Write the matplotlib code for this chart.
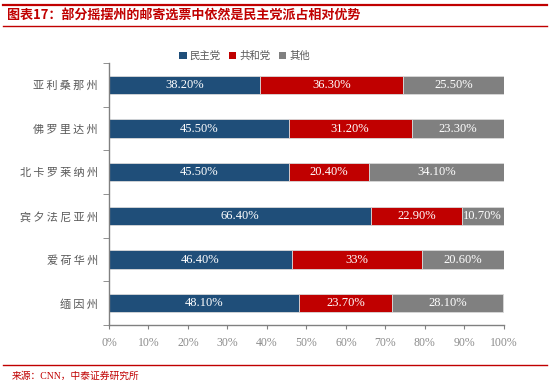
import numpy as np
import matplotlib.pyplot as plt
from matplotlib.lines import Line2D
from matplotlib.patches import Patch

# data
states = ["亚利桑那州", "佛罗里达州", "北卡罗莱纳州", "宾夕法尼亚州", "爱荷华州", "缅因州"]
dem = [38.2, 45.5, 45.5, 66.4, 46.4, 48.1]
rep = [36.3, 31.2, 20.4, 22.9, 33.0, 23.7]
oth = [25.5, 23.3, 34.1, 10.7, 20.6, 28.1]
dem_labels = ["38.20%", "45.50%", "45.50%", "66.40%", "46.40%", "48.10%"]
rep_labels = ["36.30%", "31.20%", "20.40%", "22.90%", "33%", "23.70%"]
oth_labels = ["25.50%", "23.30%", "34.10%", "10.70%", "20.60%", "28.10%"]
series_names = ["民主党", "共和党", "其他"]
colors = ["#1F4E79", "#C00000", "#808080"]

cjk = ["Noto Sans CJK SC", "DejaVu Sans"]
serif = ["Liberation Serif", "Noto Sans CJK SC"]

fig = plt.figure(figsize=(5.5, 3.92), dpi=100)
ax = fig.add_axes([0.198, 0.171, 0.718, 0.668])

y = np.arange(len(states))
left = np.zeros(len(states))
for vals, labs, c in zip([dem, rep, oth], [dem_labels, rep_labels, oth_labels], colors):
    vals = np.array(vals)
    bars = ax.barh(y, vals, left=left, height=0.42, color=c,
                   edgecolor="#d9d9d9", linewidth=0.6)
    for b, lab in zip(bars, labs):
        ax.text(b.get_x() + b.get_width() / 2, b.get_y() + b.get_height() / 2,
                lab, ha="center", va="center", color="white",
                fontsize=9, family=serif)
    left = left + vals

ax.set_xlim(0, 100)
ax.set_ylim(len(states) - 0.5, -0.5)
ax.set_xticks(np.arange(0, 101, 10))
ax.set_xticklabels([f"{v}%" for v in range(0, 101, 10)], family=serif,
                   fontsize=8.5, color="#8c8c8c")
ax.set_yticks(y)
# letter-spaced category labels (thin space falls back to DejaVu)
ax.set_yticklabels(["\u2009".join(s) for s in states], family=cjk,
                   fontsize=8, color="#595959")
ax.set_yticks(np.arange(-0.5, len(states)), minor=True)
ax.tick_params(axis="y", which="major", length=0, pad=8)
ax.tick_params(axis="y", which="minor", length=4, color="#808080", direction="out")
ax.tick_params(axis="x", length=3, color="#808080", direction="out", pad=6)
for s in ["top", "right"]:
    ax.spines[s].set_visible(False)
for s in ["left", "bottom"]:
    ax.spines[s].set_color("#808080")
    ax.spines[s].set_linewidth(1.0)

# legend
handles = [Patch(facecolor=c, edgecolor="none") for c in colors]
fig.legend(handles, series_names, loc="center", bbox_to_anchor=(0.445, 0.857),
           ncol=3, frameon=False, prop={"family": cjk, "size": 7.5},
           handlelength=0.7, handleheight=0.7, handletextpad=0.3,
           columnspacing=0.8, labelcolor="#595959")

# title block
red = "#C00000"
fig.add_artist(Line2D([0.005, 0.995], [0.987, 0.987], color=red, lw=1.6))
fig.add_artist(Line2D([0.005, 0.995], [0.933, 0.933], color=red, lw=1.0))
fig.text(0.012, 0.960, "图表17：部分摇摆州的邮寄选票中依然是民主党派占相对优势",
         color=red, fontsize=9.4, fontweight="bold", style="italic",
         family=cjk, va="center", ha="left")

# source
fig.add_artist(Line2D([0.005, 0.995], [0.070, 0.070], color=red, lw=1.0))
fig.text(0.022, 0.040, "来源：CNN，中泰证券研究所", color=red, fontsize=7,
         family=["Liberation Serif", "Noto Sans CJK SC"], va="center", ha="left")

fig.savefig("out.png", dpi=100)
